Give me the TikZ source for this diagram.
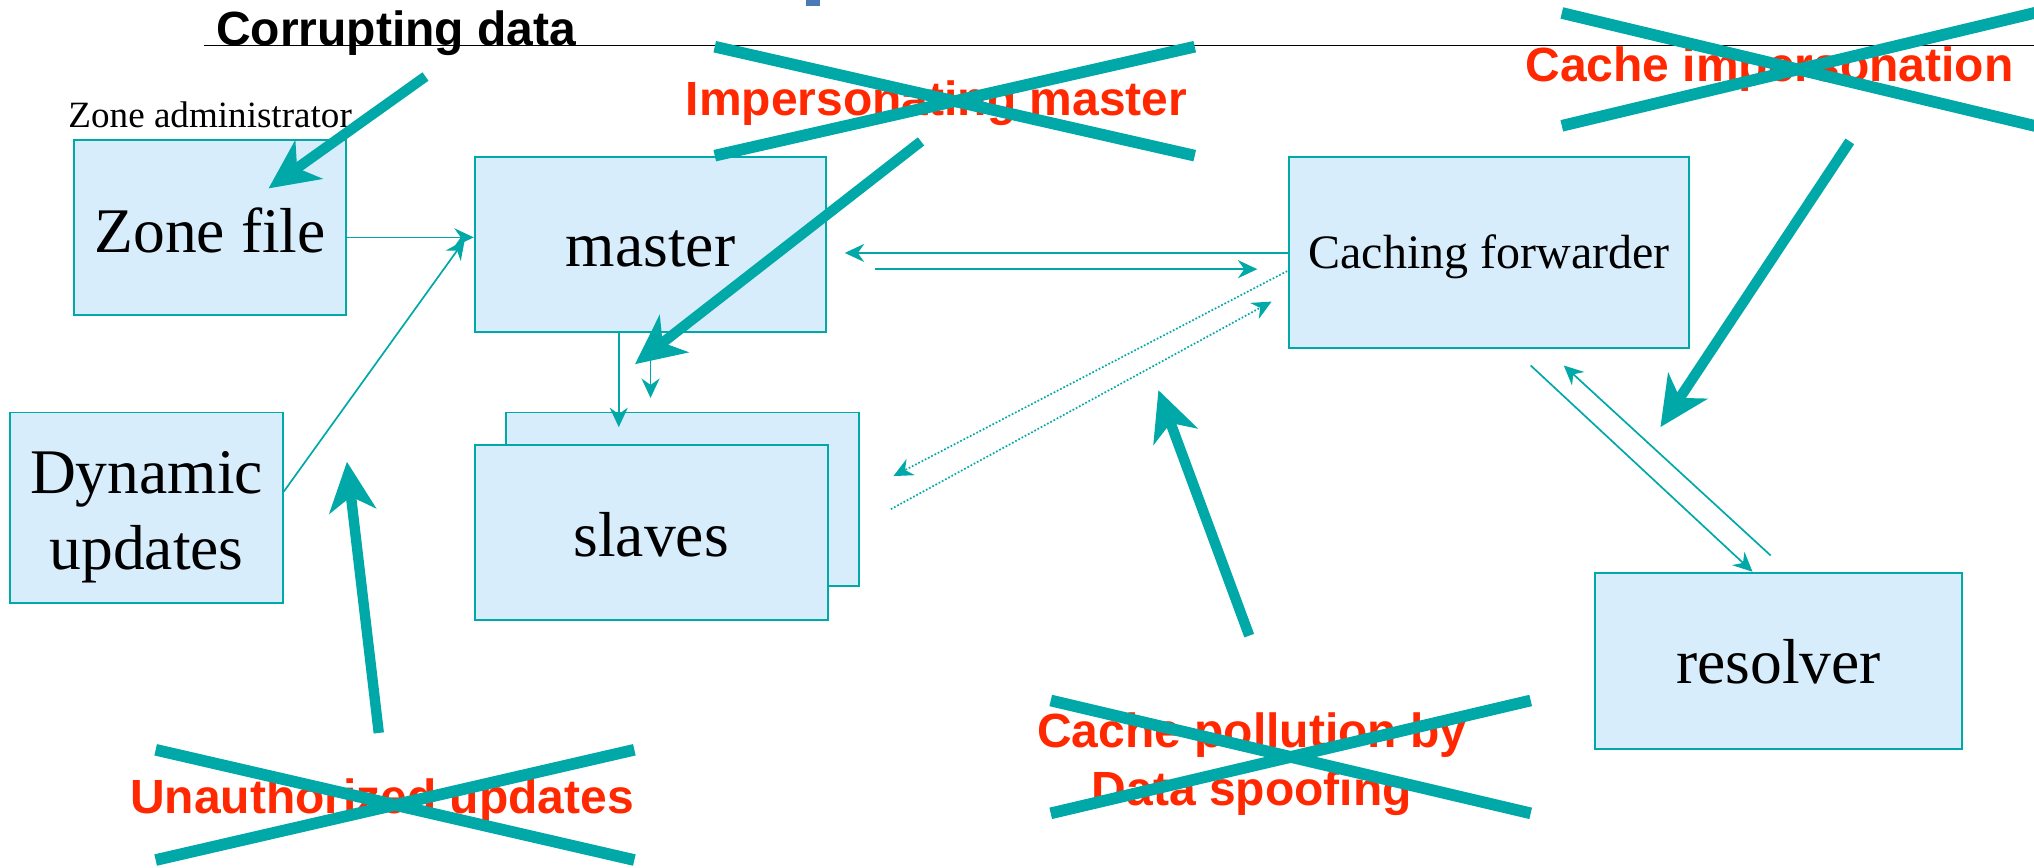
\documentclass[tikz,border=0pt]{standalone}
\usepackage{fontspec}
\setmainfont{Liberation Serif}
\newfontfamily\hv{Liberation Sans}
\usetikzlibrary{arrows.meta,calc}
\definecolor{teal1}{RGB}{0,168,168}
\definecolor{boxfill}{RGB}{215,237,251}
\definecolor{red1}{RGB}{255,40,0}
\definecolor{blue1}{RGB}{74,122,181}
\begin{document}
\begin{tikzpicture}[x=1pt,y=-1pt,
  box/.style={draw=teal1,fill=boxfill,line width=1.5pt,inner sep=0pt,
    font=\fontsize{49}{59}\selectfont,align=center},
  conn/.style={draw=teal1,line width=1.3pt,-{Stealth[length=15pt,width=14pt,inset=5pt]}},
  dotconn/.style={conn,dash pattern=on 1.3pt off 1.5pt},
  big/.style={draw=teal1,line width=8pt,-{Stealth[length=38pt,width=36pt,inset=11pt]}},
  cross/.style={draw=teal1,line width=9pt},
  redlab/.style={text=red1,font=\hv\bfseries\fontsize{37}{44.6}\selectfont,inner sep=0pt,anchor=base},
]
\useasboundingbox (0,0) rectangle (1568,669);
\clip (0,0) rectangle (1568,669);

% fragment of title and rule
\fill[blue1] (621,0) rectangle (632,4.6);
\draw[line width=1.2pt] (157,35) -- (1568,35);

% boxes
\node[box,minimum width=210pt,minimum height=135pt,text height=38pt,text depth=0pt] (zf) at (162,175.5) {Zone file};
\node[box,minimum width=271pt,minimum height=135pt,text height=34.2pt,text depth=0pt] (master) at (501.5,188.5) {master};
\node[box,minimum width=308pt,minimum height=147pt,font=\fontsize{37}{44}\selectfont,text height=33.3pt,text depth=8.3pt] (cf) at (1148,194.5) {Caching forwarder};
\node[box,minimum width=210pt,minimum height=147pt] (dyn) at (113,391.5) {\rule{0pt}{46.6pt}Dynamic\\updates};
\node[box,minimum width=272pt,minimum height=134pt] (slb) at (526,385) {};
\node[box,minimum width=272pt,minimum height=135pt,text height=37pt,text depth=0pt] (sl) at (502,410.5) {slaves};
\node[box,minimum width=283.5pt,minimum height=136pt,text height=34.2pt,text depth=0pt] (res) at (1371,509.5) {resolver};

% thin connectors
\draw[conn] ($(zf.east)+(0,7.5)$) -- ($(master.west)+(0,-5.5)$);
\draw[conn] ($(dyn.east)+(0,-12.5)$) -- ($(master.west)+(-7,-3.5)$);
\draw[conn] ($(master.south)+(-24.5,0)$) -- ($(slb.north)+(-49,12)$);
\draw[conn] (master.south) -- ++(0,50);
\draw[conn] ($(cf.west)+(0,0.5)$) -- ($(master.east)+(13.5,6.5)$);
\draw[conn] ($(master.east)+(37,19)$) -- ($(cf.west)+(-24,13)$);
\draw[dotconn] ($(cf.west)+(-1,14.5)$) -- ($(sl.east)+(50,-43.5)$);
\draw[dotconn] ($(sl.east)+(48,-18)$) -- ($(cf.west)+(-13,38)$);
\draw[conn] ($(cf.south)+(32,13)$) -- ($(res.north)+(-20,0)$);
\draw[conn] ($(res.north)+(-6,-12.5)$) -- ($(cf.south)+(57.5,13)$);

% labels
\node[anchor=base,font=\hv\bfseries\fontsize{37}{44}\selectfont,inner sep=0pt] (corrupt) at (305.5,35) {Corrupting data};
\node[anchor=base,font=\fontsize{28.6}{34}\selectfont,inner sep=0pt] (zadmin) at (162,98) {Zone administrator};
\node[redlab] (impm) at (722,88.7) {Impersonating master};
\node[redlab] (cimp) at (1364,63) {Cache impersonation};
\node[redlab] (unauth) at (294.5,627) {Unauthorized updates};
\node[redlab] (cp1) at (965,576) {Cache pollution by};
\node[redlab] (cp2) at (965,620.6) {Data spoofing};

% thick attack arrows
\coordinate (sA) at (328,59);
\coordinate (sB) at (710,109);
\coordinate (sC) at (1426,109);
\coordinate (sD) at (292,565);
\coordinate (sE) at (963,490);
\draw[big] (sA) -- ($(zf.north)+(45,38)$);
\draw[big] (sB) -- ($(master.south)+(-12,24)$);
\draw[big] (sC) -- ($(res.north)+(-91,-111.5)$);
\draw[big] (sD) -- ($(dyn.east)+(48.7,-35.5)$);
\draw[big] (sE) -- ($(cf.south)+(-255,32)$);

% crosses
\draw[cross] (551,36) -- (921,120);
\draw[cross] (551,120) -- (921,36);
\draw[cross] (1204,10) -- (1570,97.4);
\draw[cross] (1204,97) -- (1570,9.6);
\draw[cross] (120,578) -- (489,663);
\draw[cross] (120,663) -- (489,578);
\draw[cross] (810,540) -- (1180,627);
\draw[cross] (810,627) -- (1180,540);
\end{tikzpicture}
\end{document}
